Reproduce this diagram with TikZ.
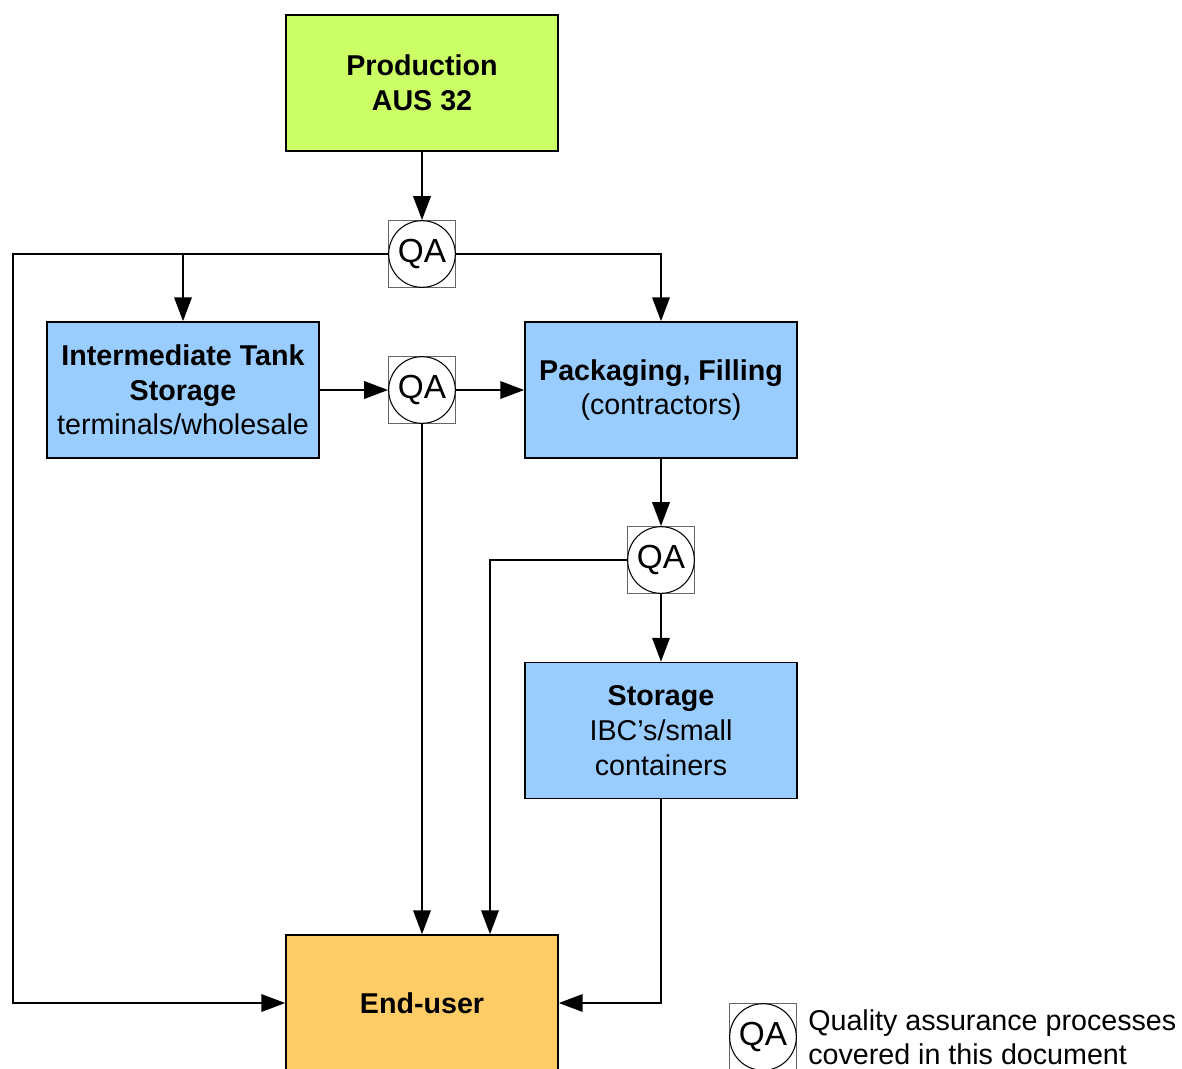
\documentclass[tikz,border=0pt]{standalone}
\usepackage{fontspec}
\setmainfont{Liberation Sans}
\usetikzlibrary{arrows.meta}
\definecolor{prodcol}{HTML}{CCFF66}
\definecolor{bluecol}{HTML}{99CCFF}
\definecolor{endcol}{HTML}{FFCC66}
\begin{document}
\begin{tikzpicture}[x=0.75pt,y=-0.75pt,
  box/.style={draw=black, line width=1.1pt, minimum width=204pt, minimum height=102pt, inner sep=0pt, align=center, font=\fontsize{21.5}{26}\selectfont},
  qa/.style={circle, draw=black, line width=0.8pt, fill=white, minimum size=50pt, inner sep=0pt, font=\fontsize{25}{30}\selectfont},
  qasq/.style={draw=black!60, line width=0.6pt, minimum size=50.5pt, inner sep=0pt},
  conn/.style={line width=1.9pt},
  arr/.style={line width=1.9pt, -{Triangle[length=18pt,width=13pt]}}
]
\useasboundingbox (0,0) rectangle (1182,1068);
% boxes
\node[box, fill=prodcol] (prod) at (422,83) {\textbf{Production}\\\textbf{AUS 32}};
\node[box, fill=bluecol] (inter) at (183,390) {\textbf{Intermediate Tank}\\\textbf{Storage}\\terminals/wholesale};
\node[box, fill=bluecol] (pack) at (661,390) {\textbf{Packaging, Filling}\\(contractors)};
\node[box, fill=bluecol] (stor) at (661,730.5) {\textbf{Storage}\\IBC’s/small\\containers};
\node[box, fill=endcol] (end) at (422,1003) {\textbf{End-user}};
% QA nodes
\node[qasq] (s1) at (422,254) {};
\node[qa] (qa1) at (422,254) {QA};
\node[qasq] (s2) at (422,390) {};
\node[qa] (qa2) at (422,390) {QA};
\node[qasq] (s3) at (661,560) {};
\node[qa] (qa3) at (661,560) {QA};
% legend
\node[qasq] (s4) at (763,1037) {};
\node[qa] (qal) at (763,1037) {QA};
\node[anchor=west, align=left, inner sep=0pt, font=\fontsize{21.5}{25.5}\selectfont] (legtxt) at (808,1037) {Quality assurance processes\\covered in this document};
% coordinates
\coordinate (lc) at (13,254);
\coordinate (b1) at (183,254);
\coordinate (c3) at (490,560);
% connectors
\draw[arr] (prod) -- (qa1);
\draw[arr] (qa1.west) -- (lc) |- (end.west);
\draw[arr] (b1) -- (inter);
\draw[arr] (qa1.east) -| (pack.north);
\draw[arr] (inter) -- (qa2);
\draw[arr] (qa2) -- (pack);
\draw[arr] (qa2) -- (qa2 |- end.north);
\draw[arr] (pack) -- (qa3);
\draw[arr] (qa3.west) -- (c3) -- (c3 |- end.north);
\draw[arr] (qa3) -- (stor);
\draw[arr] (stor.south) |- (end.east);
\end{tikzpicture}
\end{document}
